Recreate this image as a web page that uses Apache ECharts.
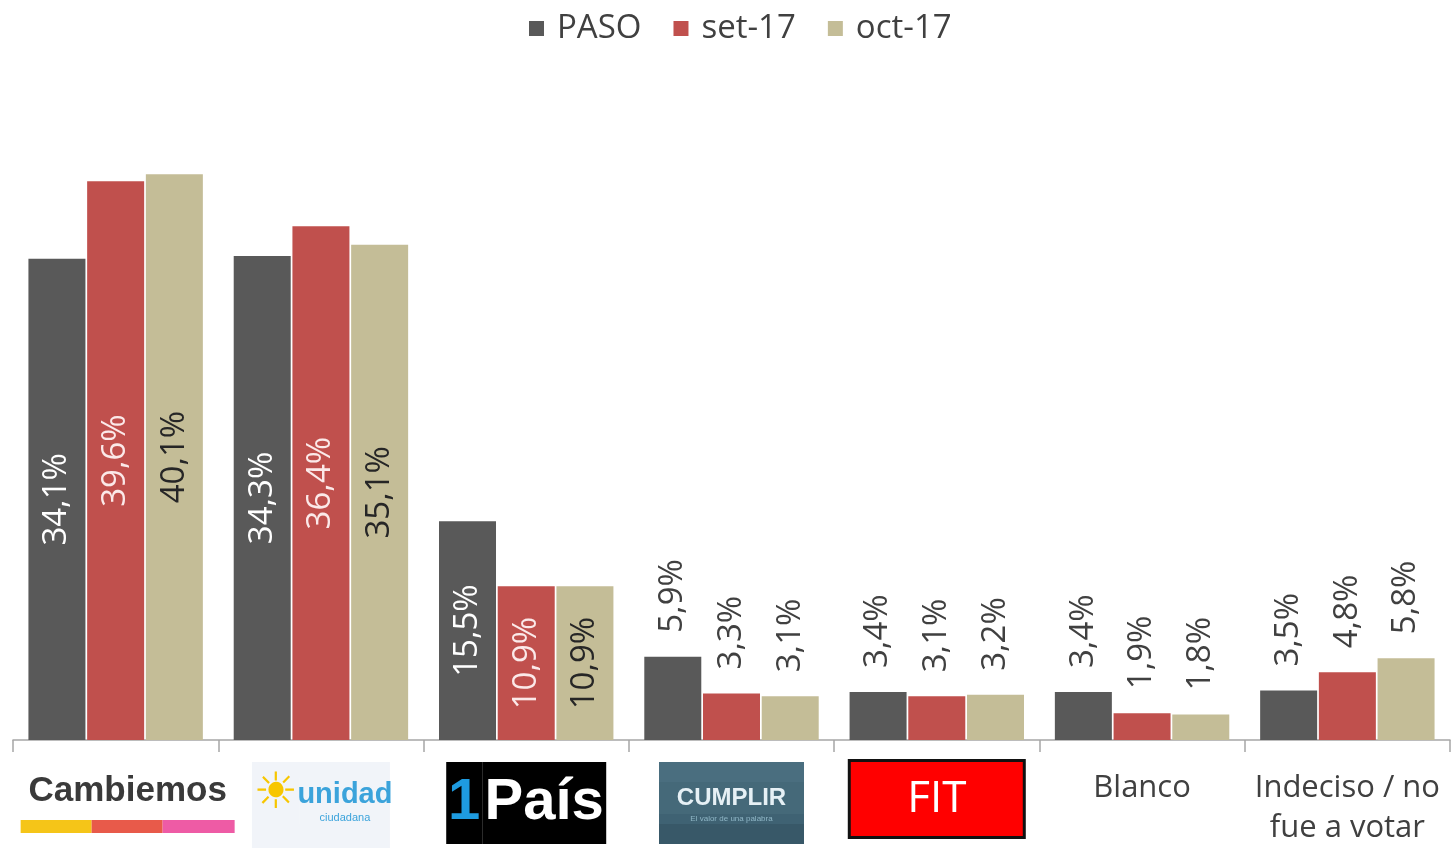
<!DOCTYPE html>
<html>
<head>
<meta charset="utf-8">
<script src="https://cdn.jsdelivr.net/npm/echarts@6/dist/echarts.min.js"></script>
<style>
  html, body { margin: 0; padding: 0; background: #fff; }
  #chart { width: 1451px; height: 848px; }
</style>
</head>
<body>
<div id="chart"></div>
<script>
// datos de la encuesta
const categories = ['Cambiemos', 'Unidad Ciudadana', '1País', 'Cumplir', 'FIT', 'Blanco', 'Indeciso / no fue a votar']
const seriesNames = ['PASO', 'set-17', 'oct-17']
const paso = [34.1, 34.3, 15.5, 5.9, 3.4, 3.4, 3.5]
const set17 = [39.6, 36.4, 10.9, 3.3, 3.1, 1.9, 4.8]
const oct17 = [40.1, 35.1, 10.9, 3.1, 3.2, 1.8, 5.8]

const colors = ['#595959', '#C0504D', '#C4BD97']
const insideColors = ['#ffffff', '#fbe9e9', '#262626']
const FONT = '"Open Sans", sans-serif'
const ARIAL = '"Liberation Sans", Arial, sans-serif'

function fmt(v) {
    return v.toFixed(1).replace('.', ',') + '%'
}

function buildData(values, idx) {
    return values.map(v => {
        let big = v >= 10
        return {
            value: v,
            label: big ? {
                position: 'inside',
                rotate: 90,
                align: 'center',
                verticalAlign: 'middle',
                color: insideColors[idx]
            } : {
                position: 'top',
                rotate: 90,
                align: 'left',
                verticalAlign: 'middle',
                distance: 24,
                color: '#404040'
            }
        }
    })
}

// etiquetas tipo logo
const logoLabels = {
    'Cambiemos': '{cx| }{cb|Cambiemos}\n{cx| }{sy| }{sr| }{sp| }',
    'Unidad Ciudadana': '{u0| }\n{sun|☀}{ud|unidad}\n{us| }{uc|ciudadana}\n{u1| }',
    '1País': '{p1|1}{p2|País}',
    'Cumplir': '{c0| }\n{cu|CUMPLIR}\n{cs|El valor de una palabra}\n{c1| }',
    'FIT': '{fit|FIT}',
    'Blanco': '{t1|Blanco}',
    'Indeciso / no fue a votar': '{t1|Indeciso / no}\n{t|fue a votar}'
}

const UBG = '#f1f4f9'

let chart = echarts.init(document.getElementById('chart'))
let option = {
    animation: false,
    color: colors,
    legend: {
        top: 7,
        left: 524,
        icon: 'rect',
        itemWidth: 15,
        itemHeight: 15,
        itemGap: 32,
        textStyle: { fontSize: 33, color: '#404040', fontFamily: FONT, padding: [0, 0, 0, 8] },
        data: seriesNames
    },
    grid: {
        left: 13,
        right: 1,
        top: 105,
        bottom: 108
    },
    xAxis: {
        type: 'category',
        data: categories,
        axisLine: { lineStyle: { color: '#a6a6a6', width: 1.5 } },
        axisTick: { show: true, length: 12, lineStyle: { color: '#a6a6a6', width: 1.5 } },
        axisLabel: {
            interval: 0,
            margin: 22,
            hideOverlap: false,
            formatter: v => logoLabels[v],
            rich: {
                cx: { width: 24, height: 13 },
                cb: { fontFamily: ARIAL, fontWeight: 'bold', fontSize: 35, color: '#3a3a3a', lineHeight: 58 },
                sy: { backgroundColor: '#F5C518', width: 71, height: 13 },
                sr: { backgroundColor: '#E85A4A', width: 71, height: 13 },
                sp: { backgroundColor: '#EE5BA5', width: 72, height: 13 },
                u0: { backgroundColor: UBG, width: 138, height: 16 },
                sun: { fontFamily: '"DejaVu Sans"', fontSize: 50, color: '#F7C600', backgroundColor: UBG, width: 48, height: 34, lineHeight: 34, align: 'center' },
                ud: { fontFamily: ARIAL, fontWeight: 'bold', fontSize: 29, color: '#3BA3DB', backgroundColor: UBG, width: 90, height: 34, lineHeight: 34, align: 'left' },
                us: { backgroundColor: UBG, width: 48, height: 12 },
                uc: { fontFamily: ARIAL, fontSize: 11, color: '#3BA3DB', backgroundColor: UBG, width: 90, height: 12, lineHeight: 12, align: 'left' },
                u1: { backgroundColor: UBG, width: 138, height: 24 },
                p1: { fontFamily: ARIAL, fontWeight: 'bold', fontSize: 58, color: '#1E9BE0', backgroundColor: '#000', width: 36, height: 82, align: 'right' },
                p2: { fontFamily: ARIAL, fontWeight: 'bold', fontSize: 58, color: '#ffffff', backgroundColor: '#000', width: 124, height: 82, align: 'left' },
                c0: { backgroundColor: '#4a6e7f', width: 145, height: 20 },
                cu: { fontFamily: ARIAL, fontWeight: 'bold', fontSize: 24, color: '#e6f0f5', backgroundColor: '#456979', width: 145, height: 32, lineHeight: 32, align: 'center' },
                cs: { fontFamily: ARIAL, fontSize: 8, color: '#8fb6c6', backgroundColor: '#3f6273', width: 145, height: 10, lineHeight: 10, align: 'center' },
                c1: { backgroundColor: '#385868', width: 145, height: 20 },
                fit: { fontFamily: FONT, fontSize: 44, color: '#ffffff', backgroundColor: '#FF0000', borderColor: '#111', borderWidth: 3, width: 172, height: 74, align: 'center' },
                t1: { fontFamily: FONT, fontSize: 31, color: '#404040', lineHeight: 44, padding: [8, 0, 0, 0] },
                t: { fontFamily: FONT, fontSize: 31, color: '#404040', lineHeight: 44 }
            }
        }
    },
    yAxis: {
        type: 'value',
        min: 0,
        max: 45,
        show: false,
        splitLine: { show: false }
    },
    series: [paso, set17, oct17].map((vals, i) => ({
        name: seriesNames[i],
        type: 'bar',
        barWidth: 57,
        barGap: '3%',
        data: buildData(vals, i),
        label: {
            show: true,
            fontSize: 33,
            fontFamily: FONT,
            formatter: p => fmt(p.value)
        }
    }))
}
chart.setOption(option)
</script>
</body>
</html>
